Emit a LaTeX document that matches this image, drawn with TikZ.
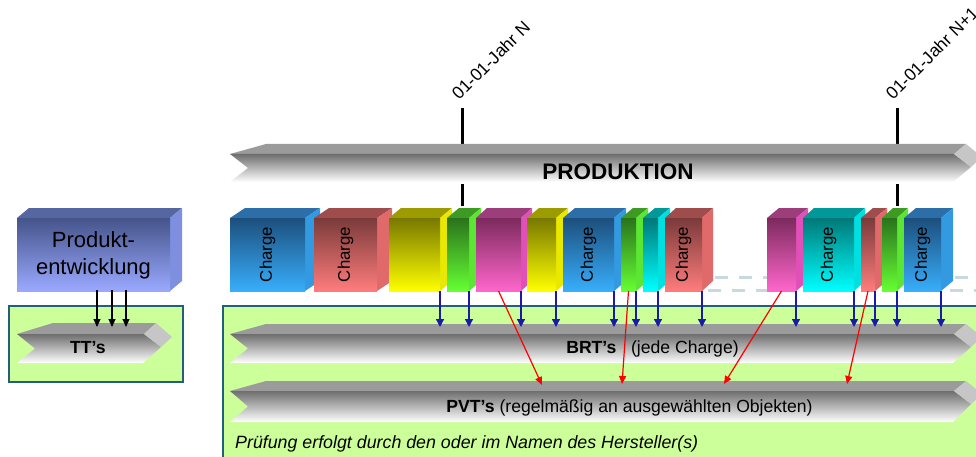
\documentclass[tikz,border=0pt]{standalone}
\usepackage{fontspec}
\setmainfont{Liberation Sans}
\usetikzlibrary{arrows.meta}
% box colours: front top, front bottom, top face, side face
\definecolor{cb-ft}{HTML}{1C4F7C}\definecolor{cb-fb}{HTML}{38AEFC}\definecolor{cb-tp}{HTML}{2C6FA8}\definecolor{cb-sd}{HTML}{3399E0}
\definecolor{cr-ft}{HTML}{7A3A3A}\definecolor{cr-fb}{HTML}{FF7C7C}\definecolor{cr-tp}{HTML}{9E4C4C}\definecolor{cr-sd}{HTML}{E06A6A}
\definecolor{cy-ft}{HTML}{787800}\definecolor{cy-fb}{HTML}{FFFF00}\definecolor{cy-tp}{HTML}{9C9C00}\definecolor{cy-sd}{HTML}{E8E800}
\definecolor{cg-ft}{HTML}{2A721C}\definecolor{cg-fb}{HTML}{66FF33}\definecolor{cg-tp}{HTML}{3D9A22}\definecolor{cg-sd}{HTML}{5AE633}
\definecolor{cm-ft}{HTML}{7C2A5E}\definecolor{cm-fb}{HTML}{FF66CC}\definecolor{cm-tp}{HTML}{9C3E7C}\definecolor{cm-sd}{HTML}{E050B8}
\definecolor{cc-ft}{HTML}{007878}\definecolor{cc-fb}{HTML}{00FFFF}\definecolor{cc-tp}{HTML}{009898}\definecolor{cc-sd}{HTML}{00E0E0}
\definecolor{cp-ft}{HTML}{45548A}\definecolor{cp-fb}{HTML}{9AA9FF}\definecolor{cp-tp}{HTML}{5666A0}\definecolor{cp-sd}{HTML}{7E8FE0}
\definecolor{greenbg}{HTML}{CCFF99}
\definecolor{greenbd}{HTML}{20607A}
\definecolor{bartop}{HTML}{9B9B9B}
\definecolor{barA}{HTML}{6E6E6E}
\definecolor{barB}{HTML}{C8C8C8}
\definecolor{barfacet}{HTML}{C6C6C6}
\definecolor{dashcol}{HTML}{C8DADF}
\definecolor{arrblue}{HTML}{1A1AA8}
% 3D charge box: name, x0, x1, depth, colour prefix
\newcommand\ChargeBox[5]{%
  \fill[#5-tp] (#2,218) -- (#2+#4,208) -- (#3+#4,208) -- (#3,218) -- cycle;
  \fill[#5-sd] (#3,218) -- (#3+#4,208) -- (#3+#4,281) -- (#3,291) -- cycle;
  \shade[top color=#5-ft, bottom color=#5-fb] (#2,218) rectangle (#3,291);
  \coordinate (#1-br) at (#3,291);
  \coordinate (#1-b) at ({(#2+#3)/2},291);
}
% grey 3D arrow bar: name, x0, xe, ytop, ymid, ybottom
\newcommand\ArrowBar[6]{%
  \fill[bartop] (#2+36,#4) -- (#3,#4) -- (#3-12,#5) -- (#2,#5) -- cycle;
  \shade[top color=barA, middle color=barB, bottom color=white]
    (#2,#5) -- (#3-12,#5) -- (#3+5,#5+13) -- (#3-13,#6) -- (#2,#6) -- (#2+18,{(#5+#6)/2}) -- cycle;
  \fill[barfacet] (#3-12,#5) -- (#3,#4) -- (#3+16,#5+3) -- (#3+5,#5+13) -- cycle;
  \coordinate (#1-top) at (#2,#4);
}
\tikzset{
  chargetext/.style={rotate=90, inner sep=0pt, font=\fontsize{16.8}{20}\selectfont},
  datelbl/.style={rotate=45, anchor=base west, inner sep=0pt, font=\fontsize{17.5}{20}\selectfont},
  bartext/.style={anchor=base, inner sep=0pt, font=\fontsize{17.6}{21}\selectfont},
  tickln/.style={line width=3pt, black},
  dashln/.style={line width=3pt, dashcol, dash pattern=on 13pt off 11pt},
  greenbox/.style={fill=greenbg, draw=greenbd, line width=1.5pt},
  bluearr/.style={arrblue, line width=1.3pt, -{Triangle[width=8pt,length=8pt]}},
  redarr/.style={red, line width=1.2pt, -{Triangle[width=7pt,length=8pt]}},
  blackarr/.style={black, line width=1.2pt, -{Triangle[width=7pt,length=8pt]}},
}
\begin{document}
\begin{tikzpicture}[x=1pt,y=-1pt]
\useasboundingbox (0,0) rectangle (976,457);
\fill[white] (0,0) rectangle (976,457);

% green background boxes
\draw[greenbox] (9,306) rectangle (183,382);
\draw[greenbox] (223,306) rectangle (1000,480);

% time marks
\draw[tickln] (462,108) -- (462,145);
\draw[tickln] (462,184) -- (462,206);
\draw[tickln] (897,108) -- (897,145);
\draw[tickln] (897,184) -- (897,206);
\node[datelbl] (dateN) at (459,101) {01-01-Jahr N};
\node[datelbl] (dateN1) at (893,101) {01-01-Jahr N+1};

% production bar
\ArrowBar{prodbar}{230}{966}{144}{154}{182}
\node[anchor=base, inner sep=0pt, font=\fontsize{22.5}{26}\selectfont\bfseries] (prod) at (618,179) {PRODUKTION};

% dashed floor lines
\draw[dashln] (708,290) -- (772,290);
\draw[dashln] (715,277) -- (772,277);
\draw[dashln] (950,290) -- (990,290);
\draw[dashln] (955,277) -- (990,277);

% Produktentwicklung box
\ChargeBox{pe}{17}{170}{12}{cp}
\node[anchor=base, inner sep=0pt, font=\fontsize{22}{26}\selectfont] (pe1) at (93.5,247) {Produkt-};
\node[anchor=base, inner sep=0pt, font=\fontsize{22}{26}\selectfont] (pe2) at (93.5,274) {entwicklung};

% charges
\ChargeBox{c1}{230}{305}{15}{cb}
\node[chargetext] (l1) at (267.5,254.5) {Charge};
\ChargeBox{c2}{314}{377}{15}{cr}
\node[chargetext] (l2) at (345.5,254.5) {Charge};
\ChargeBox{c3}{389}{440}{12}{cy}
\ChargeBox{c4}{447}{469}{12}{cg}
\ChargeBox{c5}{476}{521}{11}{cm}
\ChargeBox{c6}{527}{556}{12}{cy}
\ChargeBox{c7}{563}{614}{12}{cb}
\node[chargetext] (l7) at (588.5,254.5) {Charge};
\ChargeBox{c8}{621}{636}{12}{cg}
\ChargeBox{c9}{643}{658}{12}{cc}
\ChargeBox{c10}{665}{702}{11}{cr}
\node[chargetext] (l10) at (683.5,254.5) {Charge};
\ChargeBox{c11}{767}{796}{12}{cm}
\ChargeBox{c12}{803}{854}{11}{cc}
\node[chargetext] (l12) at (828.5,254.5) {Charge};
\ChargeBox{c13}{861}{875}{12}{cr}
\ChargeBox{c14}{882}{897}{11}{cg}
\ChargeBox{c15}{904}{941}{12}{cb}
\node[chargetext] (l15) at (922.5,254.5) {Charge};

% test bars
\ArrowBar{ttbar}{17}{156}{323}{334}{363}
\node[bartext, font=\fontsize{17.6}{21}\selectfont\bfseries] (tt) at (88,353) {TT’s};
\ArrowBar{brtbar}{230}{966}{324}{334}{363}
\node[bartext] (brt) at (652.5,353) {\textbf{BRT’s}\hspace{0.55em} (jede Charge)};
\ArrowBar{pvtbar}{230}{966}{381}{391}{422}
\node[bartext] (pvt) at (629.5,412) {\textbf{PVT’s} (regelmäßig an ausgewählten Objekten)};
\node[anchor=base west, inner sep=0pt, font=\fontsize{17.8}{21}\selectfont\itshape] (note) at (235,448) {Prüfung erfolgt durch den oder im Namen des Hersteller(s)};

% arrow targets
\coordinate (tttop) at (0,327);
\coordinate (brttop) at (0,327);
\coordinate (p1) at (97,290);
\coordinate (p2) at (112,290);
\coordinate (p3) at (126,290);
\coordinate (t1) at (542,385);
\coordinate (t2) at (622,384);
\coordinate (t3) at (724,384);
\coordinate (t4) at (847,384);

% black arrows
\foreach \p in {p1,p2,p3} \draw[blackarr] (\p) -- (\p |- tttop);
% blue arrows
\foreach \c in {c3,c4,c5,c6,c7,c8,c9,c10,c11,c12,c13,c14,c15}
  \draw[bluearr] (\c-br) -- (\c-br |- brttop);
% red arrows
\draw[redarr] (c5-b) -- (t1);
\draw[redarr] (c8-b) -- (t2);
\draw[redarr] (c11-b) -- (t3);
\draw[redarr] (c13-b) -- (t4);
\end{tikzpicture}
\end{document}
